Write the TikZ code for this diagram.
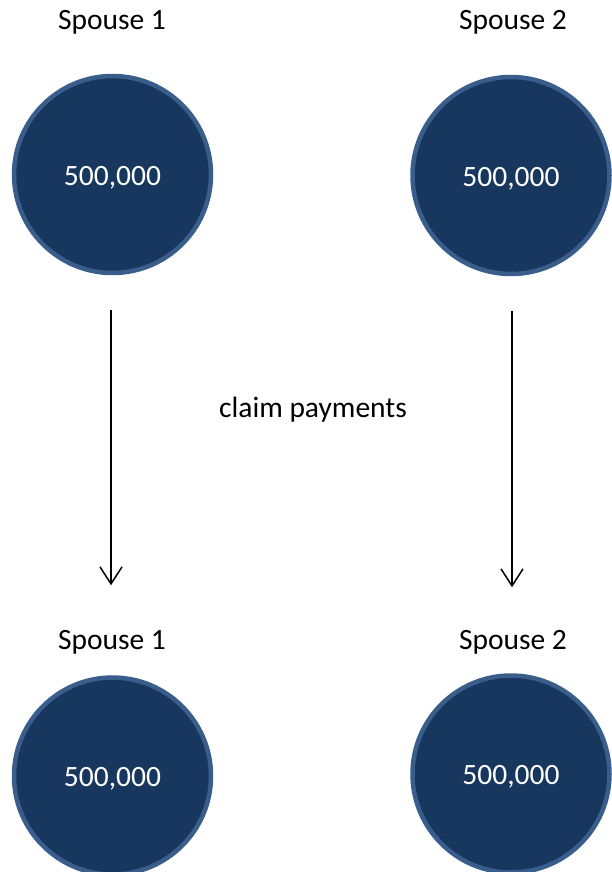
\documentclass[tikz,border=0pt]{standalone}
\usepackage{fontspec}
\setmainfont{Carlito}
\usetikzlibrary{arrows.meta}
\definecolor{navyfill}{RGB}{24,55,94}
\definecolor{navyline}{RGB}{58,94,140}
\tikzset{
  money/.style={circle, fill=navyfill, draw=navyline, line width=4.5pt, minimum size=197pt, inner sep=0pt, text=white, font=\fontsize{29.5}{31}\selectfont},
  lbl/.style={inner sep=0pt, font=\fontsize{29.5}{31}\selectfont},
  flow/.style={line width=1.5pt, -{Straight Barb[length=17pt,width=22pt,line width=1.5pt]}}
}
\newcommand{\amt}{\raisebox{-3pt}[0.63em][0.12em]{500,000}}
\begin{document}
\begin{tikzpicture}[x=1pt,y=-1pt]
\useasboundingbox (0,0) rectangle (612,872);
\node[lbl] (s1) at (112,22) {Spouse 1};
\node[lbl] (s2) at (513,22) {Spouse 2};
\node[money] (c1) at (112.5,174.5) {\amt};
\node[money] (c2) at (511,175.5) {\amt};
\node[lbl] (mid) at (313,410) {claim payments};
\node[lbl] (s3) at (112,642) {Spouse 1};
\node[lbl] (s4) at (513,642) {Spouse 2};
\node[money] (c3) at (112.5,776) {\amt};
\node[money] (c4) at (511,774) {\amt};
\draw[flow, shorten <=35pt, shorten >=90pt] ([xshift=-1.5pt]c1.south) -- ([xshift=-1.5pt]c3.north);
\draw[flow, shorten <=35pt, shorten >=86pt] ([xshift=1pt]c2.south) -- ([xshift=1pt]c4.north);
\end{tikzpicture}
\end{document}
